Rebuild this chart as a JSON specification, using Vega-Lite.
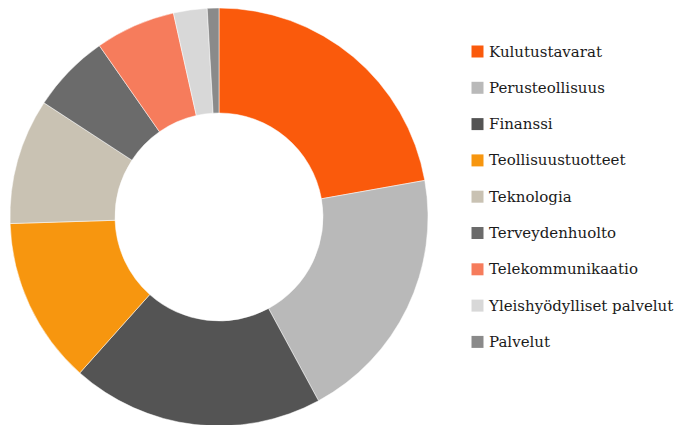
{
  "$schema": "https://vega.github.io/schema/vega-lite/v6.json",
  "width": 438,
  "height": 434,
  "padding": 0,
  "background": "white",
  "view": {"stroke": null},
  "config": {"font": "DejaVu Serif"},
  "data": {
    "values": [
      {"n": 1, "sektori": "Kulutustavarat", "osuus": 22.2},
      {"n": 2, "sektori": "Perusteollisuus", "osuus": 19.9},
      {"n": 3, "sektori": "Finanssi", "osuus": 19.5},
      {"n": 4, "sektori": "Teollisuustuotteet", "osuus": 12.9},
      {"n": 5, "sektori": "Teknologia", "osuus": 9.7},
      {"n": 6, "sektori": "Terveydenhuolto", "osuus": 6.1},
      {"n": 7, "sektori": "Telekommunikaatio", "osuus": 6.2},
      {"n": 8, "sektori": "Yleishyödylliset palvelut", "osuus": 2.6},
      {"n": 9, "sektori": "Palvelut", "osuus": 0.9}
    ]
  },
  "mark": {"type": "arc", "outerRadius": 209, "innerRadius": 104, "stroke": "#ffffff", "strokeWidth": 0.5},
  "encoding": {
    "theta": {"field": "osuus", "type": "quantitative", "stack": true},
    "order": {"field": "n", "type": "quantitative"},
    "color": {
      "field": "sektori",
      "type": "nominal",
      "scale": {
        "domain": ["Kulutustavarat", "Perusteollisuus", "Finanssi", "Teollisuustuotteet", "Teknologia", "Terveydenhuolto", "Telekommunikaatio", "Yleishyödylliset palvelut", "Palvelut"],
        "range": ["#fa5a0c", "#b9b9b9", "#545454", "#f7960f", "#c9c2b3", "#6b6b6b", "#f67c5c", "#d8d8d8", "#8a8a8a"]
      },
      "legend": {
        "title": null,
        "orient": "none",
        "legendX": 470,
        "legendY": 44,
        "symbolType": "square",
        "symbolSize": 144,
        "symbolStrokeWidth": 0,
        "labelFont": "DejaVu Serif",
        "labelFontSize": 15,
        "labelColor": "#1a1a1a",
        "labelOffset": 4,
        "rowPadding": 20.3,
        "padding": 0,
        "labelLimit": 300
      }
    }
  }
}
